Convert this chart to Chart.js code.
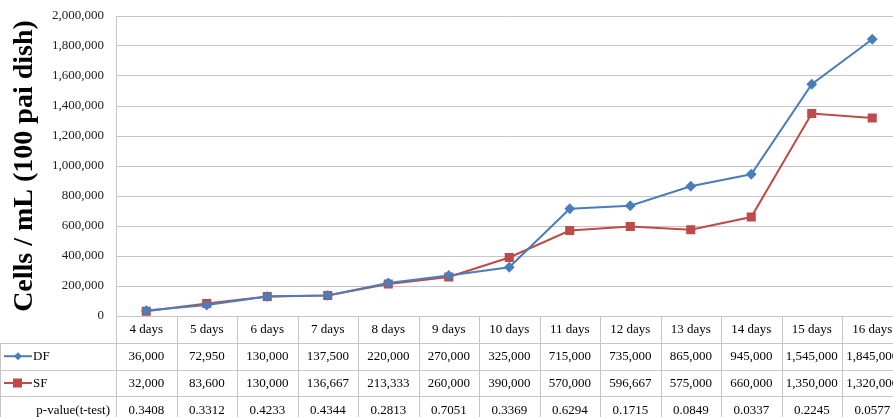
<!DOCTYPE html>
<html lang="en">
<head>
    <meta charset="UTF-8">
    <title>Cells / mL</title>
    <style>
        html, body {
            margin: 0;
            padding: 0;
            background: #fff;
            overflow: hidden;
        }
        .wrap {
            width: 905px;
            height: 430px;
        }
    </style>
    <script src="https://cdn.jsdelivr.net/npm/chart.js"></script>
</head>
<body>
    <div class="wrap"><canvas id="cellChart" width="905" height="430"></canvas></div>

    <script>
        // data
        const days = ['4 days', '5 days', '6 days', '7 days', '8 days', '9 days', '10 days',
                      '11 days', '12 days', '13 days', '14 days', '15 days', '16 days'];
        const dfValues = [36000, 72950, 130000, 137500, 220000, 270000, 325000,
                          715000, 735000, 865000, 945000, 1545000, 1845000];
        const sfValues = [32000, 83600, 130000, 136667, 213333, 260000, 390000,
                          570000, 596667, 575000, 660000, 1350000, 1320000];
        const pValues = ['0.3408', '0.3312', '0.4233', '0.4344', '0.2813', '0.7051', '0.3369',
                         '0.6294', '0.1715', '0.0849', '0.0337', '0.2245', '0.0577'];

        const blue = '#4a7ebb';
        const red = '#be4b48';
        const lineGray = '#c6c6c6';
        const serif = '"Liberation Serif", "Times New Roman", serif';

        // data table under the plot, columns follow the x scale
        const dataTable = {
            id: 'dataTable',
            afterDraw(chart) {
                const c = chart.ctx;
                const area = chart.chartArea;
                const xs = chart.scales.x;
                const rowH = 26.8;
                const colW = (area.right - area.left) / days.length;
                const top = area.bottom;
                const rowY = r => Math.round(top + r * rowH) + 0.5;

                c.save();
                c.strokeStyle = lineGray;
                c.lineWidth = 1;

                // horizontal lines
                c.beginPath();
                c.moveTo(area.left, rowY(0));
                c.lineTo(area.right, rowY(0));
                for (let r = 1; r <= 4; r++) {
                    c.moveTo(0, rowY(r));
                    c.lineTo(area.right, rowY(r));
                }
                // vertical lines
                for (let i = 0; i <= days.length; i++) {
                    const x = Math.round(area.left + i * colW) + 0.5;
                    c.moveTo(x, top);
                    c.lineTo(x, top + 4 * rowH);
                }
                c.moveTo(0.5, top + rowH);
                c.lineTo(0.5, top + 4 * rowH);
                c.stroke();

                c.fillStyle = '#000';
                c.font = '13px ' + serif;
                c.textAlign = 'center';
                c.textBaseline = 'middle';
                const rows = [
                    days,
                    dfValues.map(v => v.toLocaleString('en-US')),
                    sfValues.map(v => v.toLocaleString('en-US')),
                    pValues
                ];
                rows.forEach((row, r) => {
                    const y = top + r * rowH + rowH / 2 + 0.5;
                    row.forEach((txt, i) => {
                        c.fillText(txt, xs.getPixelForValue(i), y);
                    });
                });

                // legend keys
                const keyRow = (r, color, label, style) => {
                    const y = top + r * rowH + rowH / 2;
                    c.strokeStyle = color;
                    c.lineWidth = 2;
                    c.beginPath();
                    c.moveTo(4, y);
                    c.lineTo(32, y);
                    c.stroke();
                    c.fillStyle = color;
                    if (style === 'diamond') {
                        c.beginPath();
                        c.moveTo(18, y - 4);
                        c.lineTo(22, y);
                        c.lineTo(18, y + 4);
                        c.lineTo(14, y);
                        c.closePath();
                        c.fill();
                    } else {
                        c.fillRect(13, y - 4.5, 9, 9);
                    }
                    c.fillStyle = '#000';
                    c.textAlign = 'left';
                    c.fillText(label, 33, y + 0.5);
                };
                keyRow(1, blue, 'DF', 'diamond');
                keyRow(2, red, 'SF', 'square');

                c.textAlign = 'right';
                c.fillText('p-value(t-test)', area.left - 6, top + 3 * rowH + rowH / 2 + 0.5);
                c.restore();
            }
        };

        const ctx = document.getElementById('cellChart').getContext('2d');
        const cellChart = new Chart(ctx, {
            type: 'line',
            data: {
                labels: days,
                datasets: [{
                    label: 'DF',
                    data: dfValues,
                    borderColor: blue,
                    backgroundColor: blue,
                    borderWidth: 2,
                    pointStyle: 'rectRot',
                    pointRadius: 4,
                    tension: 0
                }, {
                    label: 'SF',
                    data: sfValues,
                    borderColor: red,
                    backgroundColor: red,
                    borderWidth: 2,
                    pointStyle: 'rect',
                    pointRadius: 5,
                    tension: 0
                }]
            },
            options: {
                responsive: false,
                animation: false,
                layout: {
                    autoPadding: false,
                    padding: { top: 16, right: 2.5, bottom: 114, left: 0 }
                },
                scales: {
                    x: {
                        display: false,
                        offset: true
                    },
                    y: {
                        min: 0,
                        max: 2000000,
                        ticks: {
                            stepSize: 200000,
                            color: '#222',
                            padding: 12,
                            font: { family: serif, size: 13 },
                            callback: v => v.toLocaleString('en-US')
                        },
                        grid: {
                            color: lineGray,
                            drawTicks: false
                        },
                        border: { color: lineGray },
                        title: {
                            display: true,
                            text: 'Cells / mL (100 pai dish)',
                            color: '#000',
                            font: { family: serif, size: 28, weight: 'bold' },
                            padding: { top: 8, bottom: 0 }
                        },
                        afterFit(scale) {
                            scale.width = 116;
                            scale.paddingTop = 0;
                            scale.paddingBottom = 0;
                        }
                    }
                },
                plugins: {
                    legend: { display: false },
                    tooltip: { enabled: false }
                }
            },
            plugins: [dataTable]
        });
    </script>
</body>
</html>
